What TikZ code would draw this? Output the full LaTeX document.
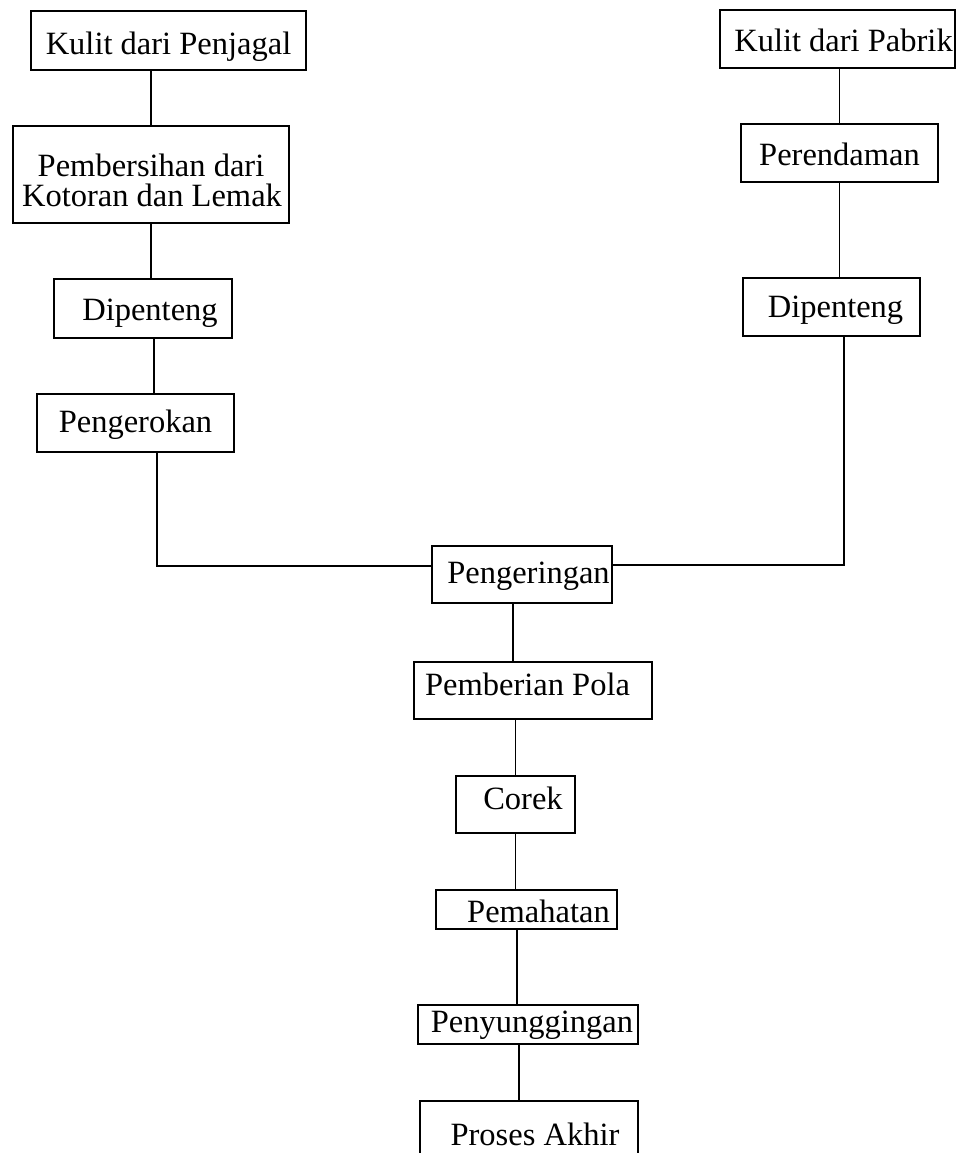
\documentclass[tikz,border=0pt]{standalone}
\usepackage{fontspec}
\setmainfont{Liberation Serif}
\begin{document}
\begin{tikzpicture}[x=1pt,y=-1pt,
  stepbox/.style={draw=black, line width=1.5pt, inner sep=0pt, align=center,
    font=\fontsize{32.5}{30}\selectfont},
  lowered/.style={text height=#1, text depth=0pt},
  link/.style={draw=black, line width=1.2pt}]
\clip (0,0) rectangle (960,1153);
\fill[white] (0,0) rectangle (960,1153);
% left branch
\node[stepbox, lowered=29pt, minimum width=275pt, minimum height=59pt] (K1) at (168.5,40.5) {Kulit dari Penjagal};
\node[stepbox, minimum width=276pt, minimum height=97pt] (P1) at (151,174.5) {\rule{0pt}{35pt}Pembersihan dari\\\hspace*{2pt}Kotoran dan Lemak};
\node[stepbox, lowered=24pt, minimum width=178pt, minimum height=59pt] (D1) at (143,308.5) {\hspace*{14pt}Dipenteng};
\node[stepbox, lowered=19.5pt, minimum width=197pt, minimum height=58pt] (G1) at (135.5,423) {Pengerokan};
% right branch
\node[stepbox, lowered=25pt, minimum width=235pt, minimum height=58pt] (K2) at (837.5,39) {\hspace*{12pt}Kulit dari Pabrik};
\node[stepbox, lowered=25pt, minimum width=197pt, minimum height=58pt] (R2) at (839.5,153) {Perendaman};
\node[stepbox, lowered=21pt, minimum width=177pt, minimum height=58pt] (D2) at (831.5,307) {\hspace*{8pt}Dipenteng};
% centre column
\node[stepbox, lowered=17.5pt, minimum width=180pt, minimum height=57pt] (PG) at (522,574.5) {\hspace*{13pt}Pengeringan};
\node[stepbox, lowered=9pt, minimum width=238pt, minimum height=57pt] (PP) at (533,690.5) {Pemberian Pola\hspace*{11pt}};
\node[stepbox, lowered=9pt, minimum width=119pt, minimum height=57pt] (C) at (515.5,804.5) {\hspace*{15pt}Corek};
\node[stepbox, lowered=25.5pt, minimum width=181pt, minimum height=39pt] (PM) at (526.5,909.5) {\hspace*{24pt}Pemahatan};
\node[stepbox, lowered=16.5pt, minimum width=220pt, minimum height=39pt] (PS) at (528,1024.5) {\hspace*{8pt}Penyunggingan};
\node[stepbox, lowered=24pt, minimum width=218pt, minimum height=64pt] (PA) at (529,1133) {\hspace*{12pt}Proses Akhir};
% connectors left
\draw[link] (P1.north |- K1.south) -- (P1.north);
\draw[link] (P1.south) -- (P1.south |- D1.north);
\draw[link] ([xshift=11pt]D1.south) -- ([xshift=11pt]D1.south |- G1.north);
\draw[link] ([xshift=21.5pt]G1.south) |- ([yshift=8.5pt]PG.west);
% connectors right
\draw[link] (R2.north |- K2.south) -- (R2.north);
\draw[link] (R2.south) -- (R2.south |- D2.north);
\draw[link] ([xshift=12.5pt]D2.south) |- ([yshift=9.5pt]PG.east);
% connectors centre
\draw[link] ([xshift=-9pt]PG.south) -- ([xshift=-9pt]PG.south |- PP.north);
\draw[link] (C.north |- PP.south) -- (C.north);
\draw[link] (C.south) -- (C.south |- PM.north);
\draw[link] ([xshift=-9.5pt]PM.south) -- ([xshift=-9.5pt]PM.south |- PS.north);
\draw[link] ([xshift=-9pt]PS.south) -- ([xshift=-9pt]PS.south |- PA.north);
\end{tikzpicture}
\end{document}
